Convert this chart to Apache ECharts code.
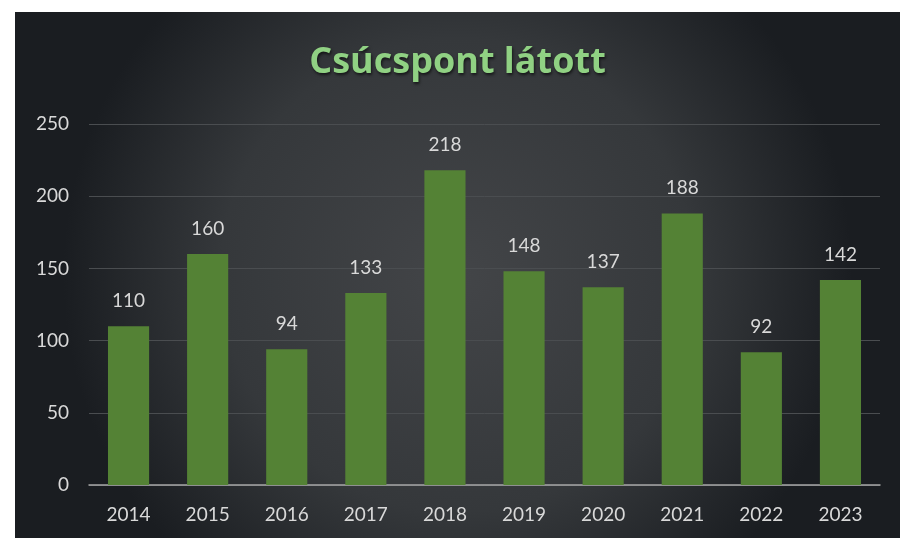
<!DOCTYPE html>
<html>
<head>
<meta charset="utf-8">
<script src="https://cdn.jsdelivr.net/npm/echarts@6/dist/echarts.min.js"></script>
<style>
  html, body { margin: 0; padding: 0; background: #ffffff; }
  #chart { position: absolute; left: 15px; top: 12px; width: 885px; height: 526px; }
</style>
</head>
<body>
<div id="chart"></div>
<script>
var years = ['2014', '2015', '2016', '2017', '2018', '2019', '2020', '2021', '2022', '2023'];
var counts = [110, 160, 94, 133, 218, 148, 137, 188, 92, 142];
var yTicks = [0, 50, 100, 150, 200, 250];

var chart = echarts.init(document.getElementById('chart'));
chart.setOption({
  backgroundColor: {
    type: 'radial', x: 0.5, y: 0.5, r: 0.75,
    colorStops: [
      { offset: 0, color: '#434548' },
      { offset: 0.6, color: '#35383b' },
      { offset: 1, color: '#1a1d21' }
    ]
  },
  title: {
    text: 'Csúcspont látott',
    left: 'center',
    top: 28,
    textStyle: {
      color: '#90d183',
      fontFamily: 'Open Sans',
      fontWeight: 'bold',
      fontSize: 36,
      textShadowColor: 'rgba(0,0,0,0.6)',
      textShadowBlur: 3,
      textShadowOffsetX: 1,
      textShadowOffsetY: 2
    }
  },
  grid: { left: 74, right: 20, top: 112, bottom: 53 },
  xAxis: {
    type: 'category',
    data: years,
    axisTick: { show: false },
    axisLine: { lineStyle: { color: '#a6a6a6', width: 1.5 } },
    axisLabel: { color: '#d9d9d9', fontFamily: 'Lato', fontSize: 19, margin: 20 }
  },
  yAxis: {
    type: 'value',
    min: yTicks[0],
    max: yTicks[yTicks.length - 1],
    interval: 50,
    axisLine: { show: false },
    axisTick: { show: false },
    splitLine: { lineStyle: { color: '#4a4d50', width: 1 } },
    axisLabel: { color: '#d9d9d9', fontFamily: 'Lato', fontSize: 19, margin: 20 }
  },
  series: [{
    type: 'bar',
    data: counts,
    barWidth: '52%',
    itemStyle: { color: '#548235' },
    label: {
      show: true,
      position: 'top',
      distance: 16,
      color: '#d9d9d9',
      fontFamily: 'Lato',
      fontSize: 19
    }
  }]
});
</script>
</body>
</html>
